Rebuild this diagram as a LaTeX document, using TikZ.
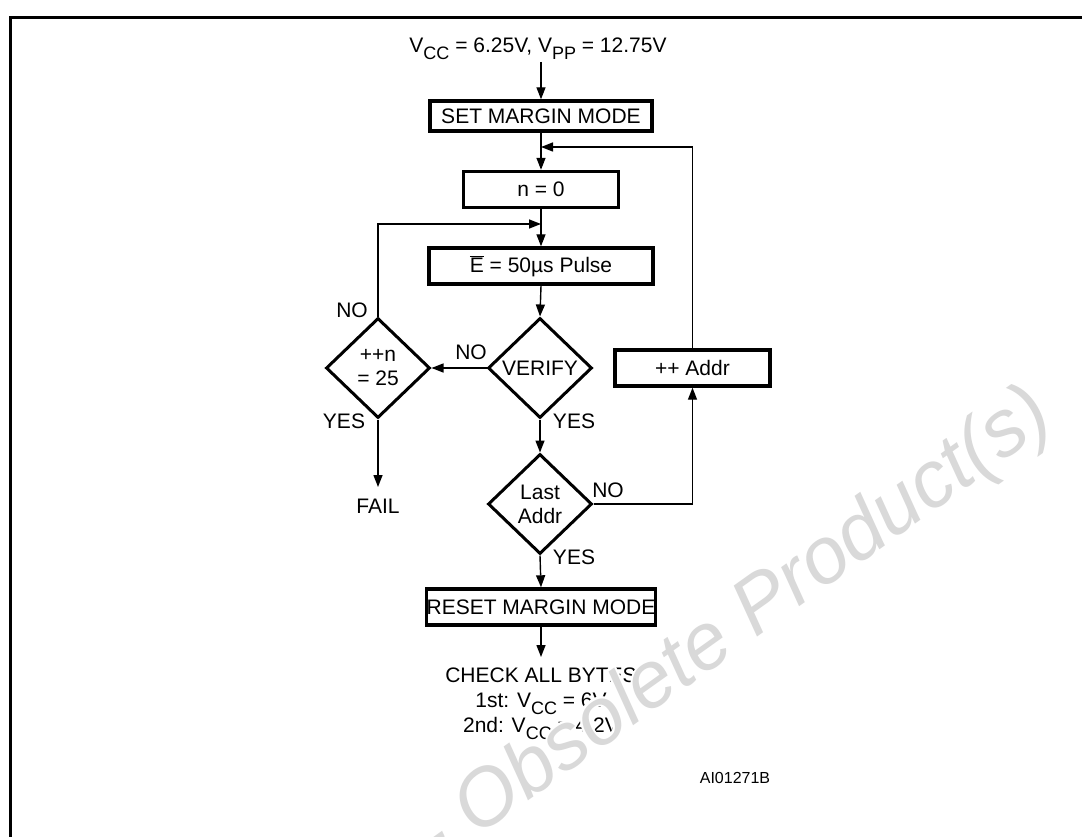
\documentclass[tikz,border=0pt]{standalone}
\usepackage{fontspec}
\setmainfont{Liberation Sans}
\usetikzlibrary{shapes.geometric,arrows.meta}
\newcommand\lsub[1]{\raisebox{-0.3em}{\fontsize{18}{18}\selectfont #1}}
\newcommand\wmtext{Product(s) - Obsolete Product(s)}
\begin{document}
\begin{tikzpicture}[x=1pt,y=-1pt,
  font=\fontsize{21}{24}\selectfont,
  box/.style={draw,line width=3.4pt,minimum height=36pt,inner sep=0pt},
  dia/.style={draw,diamond,line width=3pt,minimum width=104pt,minimum height=100pt,inner sep=0pt,align=center},
  conn/.style={line width=1.4pt},
  arr/.style={conn,-{Triangle[length=12pt,width=9pt]}},
  lbl/.style={inner sep=0pt},
  wmark/.style={font=\fontsize{80}{80}\selectfont\itshape,inner sep=0pt,rotate=35.5,anchor=base east}]
\useasboundingbox (0,0) rectangle (1082,837);
\clip (0,0) rectangle (1082,837);
% frame
\draw[line width=3pt] (1090,18) -- (10,18) -- (10,845);
% nodes
\node[lbl,anchor=base] (title) at (538,53) {V\lsub{CC} = 6.25V, V\lsub{PP} = 12.75V};
\coordinate (tarr) at (541,62);
\node[box,minimum width=222pt,minimum height=30pt] (set) at (541,116) {SET MARGIN MODE};
\coordinate (j1) at (541,147);
\node[box,minimum width=155pt] (n0) at (541,189.5) {n = 0};
\coordinate (j2) at (541,224);
\node[box,minimum width=224pt] (pulse) at (541,266) {$\overline{\mbox{E}}$ = 50µs Pulse};
\node[dia] (ver) at (540,368) {VERIFY};
\node[dia] (cnt) at (378,368) {++n\\= 25};
\node[dia] (last) at (540,504) {Last\\Addr};
\node[box,minimum width=155pt] (addr) at (692.5,368) {++ Addr};
\node[box,minimum width=224pt] (reset) at (541,607) {RESET MARGIN MODE};
\coordinate (fail) at (378,487);
\coordinate (chk) at (541,657);
\coordinate (lc) at (378,224);
\coordinate (rc) at (692.5,147);
\coordinate (lr) at (692.5,504);
% texts
\node[lbl] (failt) at (378,506) {FAIL};
\node[lbl,align=center,anchor=north] (check) at (541,668) {CHECK ALL BYTES\\[1pt]1st: V\lsub{CC} = 6V\\[1pt]2nd: V\lsub{CC} = 4.2V};
\node[lbl] (no1) at (352,310) {NO};
\node[lbl] (no2) at (471,352) {NO};
\node[lbl] (yes1) at (344,421) {YES};
\node[lbl] (yes2) at (574,421) {YES};
\node[lbl] (no3) at (608,490) {NO};
\node[lbl] (yes3) at (574,557) {YES};
\node[lbl,font=\fontsize{16}{16}\selectfont] (code) at (735,778) {AI01271B};
% connectors
\draw[arr] (tarr) -- (set.north);
\draw[arr] (set.south) -- (n0.north);
\draw[arr] (n0.south) -- (pulse.north);
\draw[arr] (pulse.south) -- (ver.north);
\draw[arr] (ver.west) -- (cnt.east);
\draw[arr] (ver.south) -- (last.north);
\draw[arr] (last.south) -- (reset.north);
\draw[arr] (reset.south) -- (chk);
\draw[arr] (cnt.south) -- (fail);
\draw[arr] (cnt.north) -- (lc) -- (j2);
\draw[arr] (last.east) -- (lr) -- (addr.south);
\draw[arr] (addr.north) -- (rc) -- (j1);
% watermark: thin white halo, then light grey text
\foreach \dx/\dy [count=\k] in {2/0,-2/0,0/2,0/-2,1.4/1.4,-1.4/1.4,1.4/-1.4,-1.4/-1.4}
  \node[wmark,text=white] (halo\k) at (1056+\dx,424+\dy) {\wmtext};
\node[wmark,text=black!15] (wm) at (1056,424) {\wmtext};
\end{tikzpicture}
\end{document}
